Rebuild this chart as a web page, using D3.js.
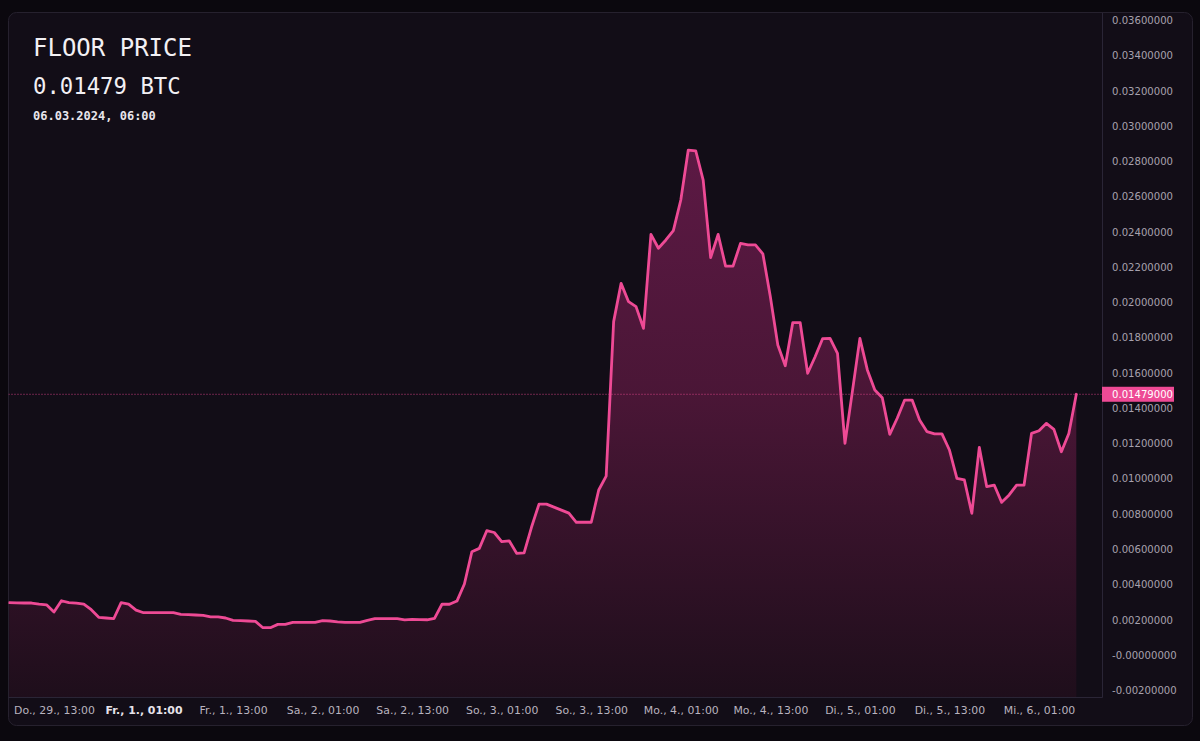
<!DOCTYPE html>
<html>
<head>
<meta charset="utf-8">
<script src="https://cdn.jsdelivr.net/npm/d3@7"></script>
<style>
  html, body { margin: 0; padding: 0; background: #0b080e; }
  svg { display: block; }
</style>
</head>
<body>
<svg id="chart" width="1200" height="741"></svg>
<script>
// ---------------- data ----------------
const title = "FLOOR PRICE";
const currentPriceText = "0.01479 BTC";
const currentDateText = "06.03.2024, 06:00";
const currentPrice = 0.01479;
const currentPriceLabel = "0.01479000";

// hourly series start (29 Feb 2024, 07:00), one value per hour, in BTC
const seriesStart = new Date(2024, 1, 29, 7, 0);
const floorPrice = [
  0.00297, 0.00296, 0.00295, 0.00295, 0.00289, 0.00285, 0.00244, 0.00308, 0.00297, 0.00295,
  0.00289, 0.00257, 0.00214, 0.00210, 0.00206, 0.00297, 0.00289, 0.00255, 0.00240, 0.00240,
  0.00240, 0.00240, 0.00240, 0.00231, 0.00229, 0.00227, 0.00225, 0.00217, 0.00216, 0.00210,
  0.00197, 0.00195, 0.00193, 0.00191, 0.00155, 0.00155, 0.00174, 0.00174, 0.00185, 0.00185,
  0.00185, 0.00185, 0.00195, 0.00193, 0.00188, 0.00185, 0.00185, 0.00185, 0.00197, 0.00206,
  0.00206, 0.00206, 0.00206, 0.00199, 0.00202, 0.00201, 0.00200, 0.00208, 0.00288, 0.00288,
  0.00306, 0.00403, 0.00586, 0.00605, 0.00705, 0.00695, 0.00643, 0.00648, 0.00577, 0.00580,
  0.00726, 0.00856, 0.00856, 0.00839, 0.00822, 0.00805, 0.00753, 0.00753, 0.00753, 0.00936,
  0.01015, 0.01891, 0.02108, 0.02004, 0.01976, 0.01853, 0.02386, 0.02307, 0.02354, 0.02407,
  0.02581, 0.02864, 0.02860, 0.02694, 0.02254, 0.02386, 0.02206, 0.02206, 0.02335, 0.02326,
  0.02326, 0.02275, 0.02032, 0.01758, 0.01641, 0.01885, 0.01885, 0.01598, 0.01692, 0.01794,
  0.01796, 0.01711, 0.01201, 0.01497, 0.01796, 0.01617, 0.01503, 0.01459, 0.01252, 0.01343,
  0.01446, 0.01446, 0.01333, 0.01267, 0.01254, 0.01254, 0.01163, 0.01002, 0.00993, 0.00804,
  0.01178, 0.00955, 0.00964, 0.00866, 0.00908, 0.00964, 0.00964, 0.01257, 0.01272, 0.01314,
  0.01280, 0.01153, 0.01257, 0.01479
];

// y-axis ticks (as printed on the chart)
const yTickValues = [-0.002, 0, 0.002, 0.004, 0.006, 0.008, 0.010, 0.012, 0.014, 0.016,
  0.018, 0.020, 0.022, 0.024, 0.026, 0.028, 0.030, 0.032, 0.034, 0.036];
const yTickLabels = ["-0.00200000", "-0.00000000", "0.00200000", "0.00400000", "0.00600000",
  "0.00800000", "0.01000000", "0.01200000", "0.01400000", "0.01600000", "0.01800000",
  "0.02000000", "0.02200000", "0.02400000", "0.02600000", "0.02800000", "0.03000000",
  "0.03200000", "0.03400000", "0.03600000"];

// x-axis ticks
const xTickDates = [
  new Date(2024, 1, 29, 13), new Date(2024, 2, 1, 1), new Date(2024, 2, 1, 13),
  new Date(2024, 2, 2, 1), new Date(2024, 2, 2, 13), new Date(2024, 2, 3, 1),
  new Date(2024, 2, 3, 13), new Date(2024, 2, 4, 1), new Date(2024, 2, 4, 13),
  new Date(2024, 2, 5, 1), new Date(2024, 2, 5, 13), new Date(2024, 2, 6, 1)
];
const xTickLabels = ["Do., 29., 13:00", "Fr., 1., 01:00", "Fr., 1., 13:00", "Sa., 2., 01:00",
  "Sa., 2., 13:00", "So., 3., 01:00", "So., 3., 13:00", "Mo., 4., 01:00", "Mo., 4., 13:00",
  "Di., 5., 01:00", "Di., 5., 13:00", "Mi., 6., 01:00"];
const xTickBold = [false, true, false, false, false, false, false, false, false, false, false, false];

// ---------------- layout ----------------
const W = 1200, H = 741;
const panel = { x: 8.5, y: 12.5, w: 1184, h: 713, r: 8 };
const plot = { left: 8.5, right: 1102.5, top: 13, bottom: 697.5 };
const pink = "#ee4a95";
const axisFont = "'DejaVu Sans', Verdana, sans-serif";

const svg = d3.select("#chart");
const HOUR = 3600 * 1000;
const data = floorPrice.map((v, i) => ({ t: new Date(seriesStart.getTime() + i * HOUR), v }));

const x = d3.scaleTime()
  .domain([seriesStart, data[data.length - 1].t])
  .range([9.2, 1076.3]);
const y = d3.scaleLinear()
  .domain([-0.002, 0.036])
  .range([690.3, 20.3]);

// background panel
svg.append("rect").attr("width", W).attr("height", H).attr("fill", "#0b080e");
svg.append("rect")
  .attr("x", panel.x).attr("y", panel.y).attr("width", panel.w).attr("height", panel.h)
  .attr("rx", panel.r).attr("fill", "#120d17").attr("stroke", "#26212e").attr("stroke-width", 1);

const defs = svg.append("defs");
const grad = defs.append("linearGradient").attr("id", "fillGrad")
  .attr("gradientUnits", "userSpaceOnUse")
  .attr("x1", 0).attr("x2", 0).attr("y1", y(0.0286)).attr("y2", plot.bottom);
grad.append("stop").attr("offset", 0).attr("stop-color", "#5c1944");
grad.append("stop").attr("offset", 0.45).attr("stop-color", "#4a1636");
grad.append("stop").attr("offset", 1).attr("stop-color", "#1e0e1b");

defs.append("clipPath").attr("id", "plotClip").append("rect")
  .attr("x", plot.left).attr("y", plot.top)
  .attr("width", plot.right - plot.left).attr("height", plot.bottom - plot.top);

const g = svg.append("g").attr("clip-path", "url(#plotClip)");

// area
g.append("path").datum(data)
  .attr("fill", "url(#fillGrad)")
  .attr("d", d3.area().x(d => x(d.t)).y0(plot.bottom).y1(d => y(d.v)));

// current price dotted line
g.append("line")
  .attr("x1", plot.left).attr("x2", plot.right)
  .attr("y1", y(currentPrice)).attr("y2", y(currentPrice))
  .attr("stroke", pink).attr("stroke-width", 1).attr("stroke-dasharray", "1,2")
  .attr("opacity", 0.85);

// line
g.append("path").datum(data)
  .attr("fill", "none").attr("stroke", pink).attr("stroke-width", 2.8)
  .attr("stroke-linejoin", "round").attr("stroke-linecap", "round")
  .attr("d", d3.line().x(d => x(d.t)).y(d => y(d.v)));

// plot borders
svg.append("line").attr("x1", plot.right).attr("x2", plot.right)
  .attr("y1", plot.top).attr("y2", plot.bottom).attr("stroke", "#2a2536");
svg.append("line").attr("x1", plot.left).attr("x2", plot.right)
  .attr("y1", plot.bottom).attr("y2", plot.bottom).attr("stroke", "#2a2536");

// y axis
const yAxis = d3.axisRight(y).tickValues(yTickValues).tickSize(0).tickPadding(0)
  .tickFormat((d, i) => yTickLabels[i]);
const yg = svg.append("g").attr("transform", `translate(1112,0)`).call(yAxis);
yg.select(".domain").remove();
yg.selectAll("text")
  .attr("fill", "#a7a1ad").attr("font-family", axisFont)
  .attr("font-size", 10.1).attr("dy", "0.32em");

// current price label
const py = y(currentPrice);
svg.append("rect").attr("x", 1102).attr("y", py - 7.5).attr("width", 72).attr("height", 15)
  .attr("fill", pink);
svg.append("text").attr("x", 1112).attr("y", py).attr("dy", "0.35em")
  .attr("fill", "#ffffff").attr("font-family", axisFont)
  .attr("font-size", 10.1).text(currentPriceLabel);

// x axis
const xAxis = d3.axisBottom(x).tickValues(xTickDates).tickSize(0).tickPadding(0)
  .tickFormat((d, i) => xTickLabels[i]);
const xg = svg.append("g").attr("transform", `translate(0,706)`).call(xAxis);
xg.select(".domain").remove();
xg.selectAll("text")
  .attr("fill", (d, i) => xTickBold[i] ? "#e6e2ea" : "#b9b3bf")
  .attr("font-weight", (d, i) => xTickBold[i] ? "bold" : "normal")
  .attr("font-family", axisFont)
  .attr("font-size", 10.9).attr("dy", "0.71em");

// titles
const mono = "'DejaVu Sans Mono', 'Liberation Mono', monospace";
svg.append("text").attr("x", 33).attr("y", 56).attr("fill", "#f2f0f4")
  .attr("font-family", mono).attr("font-size", 24).text(title);
svg.append("text").attr("x", 33).attr("y", 94).attr("fill", "#f2f0f4")
  .attr("font-family", mono).attr("font-size", 22.3).text(currentPriceText);
svg.append("text").attr("x", 33).attr("y", 120).attr("fill", "#e8e5ec")
  .attr("font-family", mono).attr("font-weight", "bold").attr("font-size", 12).text(currentDateText);
</script>
</body>
</html>
